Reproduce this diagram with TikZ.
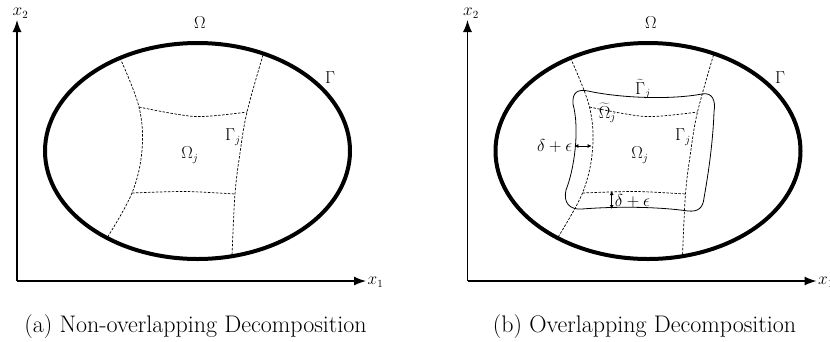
\documentclass[tikz,border=0pt]{standalone}
\usetikzlibrary{arrows.meta}
\begin{document}
\begin{tikzpicture}[x=1pt,y=-1pt,
  bnd/.style={line width=4pt},
  cutline/.style={line width=0.7pt,dash pattern=on 2.5pt off 1.5pt},
  axisline/.style={line width=1.3pt,-{Latex[length=12pt,width=9pt]}},
  lab/.style={inner sep=0pt,font=\fontsize{16}{19}\selectfont},
  captext/.style={inner sep=0pt,anchor=base,font=\fontsize{24}{28}\selectfont},
  dimline/.style={line width=0.9pt,{Latex[length=4pt,width=4pt]}-{Latex[length=4pt,width=4pt]}},
  ovl/.style={line width=0.8pt}]
\useasboundingbox (0,0) rectangle (830,341);
% ---------- panel (a) ----------
\coordinate (oA) at (17,281);
\coordinate (yA) at (17,20);
\coordinate (xA) at (366,281);
\draw[axisline] (oA) -- (yA);
\draw[axisline] (oA) -- (xA);
\node[lab] (x2A) at (20.5,13) {$x_2$};
\node[lab] (x1A) at (375.5,282) {$x_1$};
\draw[bnd] (197.5,151) ellipse [x radius=152.5pt, y radius=108pt];
\draw[cutline] plot[smooth,tension=0.6] coordinates {(120,58) (139,107) (142,150) (132,193) (107,238)};
\draw[cutline] plot[smooth,tension=0.6] coordinates {(263,55) (247,112) (240,153) (235,194) (232,256)};
\draw[cutline] plot[smooth] coordinates {(139,107) (195,116.5) (247,112)};
\draw[cutline] plot[smooth] coordinates {(132,193) (185,191.5) (235,194)};
\node[lab] (OmA) at (200,23) {$\Omega$};
\node[lab] (GaA) at (330,78) {$\Gamma$};
\node[lab] (GjA) at (233,137) {$\Gamma_j$};
\node[lab] (OjA) at (190,155) {$\Omega_j$};
\node[captext] (capA) at (195.5,332) {(a) Non-overlapping Decomposition};
% ---------- panel (b) ----------
\coordinate (oB) at (467.5,281);
\coordinate (yB) at (467.5,20);
\coordinate (xB) at (816.5,281);
\draw[axisline] (oB) -- (yB);
\draw[axisline] (oB) -- (xB);
\node[lab] (x2B) at (471,13) {$x_2$};
\node[lab] (x1B) at (826,282) {$x_1$};
\draw[bnd] (648,151) ellipse [x radius=152.5pt, y radius=108pt];
\begin{scope}[shift={(450.5,0)}]
\draw[cutline] plot[smooth,tension=0.6] coordinates {(120,58) (139,107) (142,150) (132,193) (107,238)};
\draw[cutline] plot[smooth,tension=0.6] coordinates {(263,55) (247,112) (240,153) (235,194) (232,256)};
\draw[cutline] plot[smooth] coordinates {(139,107) (195,116.5) (247,112)};
\draw[cutline] plot[smooth] coordinates {(132,193) (185,191.5) (235,194)};
\end{scope}
\draw[ovl] (573,104) .. controls (572,92) and (578,89) .. (588,91)
  .. controls (620,98) and (670,100) .. (702,94)
  .. controls (712,92) and (716,100) .. (714,112)
  .. controls (713,140) and (709,170) .. (704,198)
  .. controls (703,208) and (698,212) .. (688,211)
  .. controls (660,207) and (620,206) .. (582,209)
  .. controls (570,210) and (563,203) .. (566,190)
  .. controls (574,170) and (580,130) .. (573,104) -- cycle;
\node[lab] (OmB) at (651,23) {$\Omega$};
\node[lab] (GaB) at (780,78) {$\Gamma$};
\node[lab] (GtB) at (643,89) {$\widetilde{\Gamma}_j$};
\node[lab] (OtB) at (607.5,113) {$\widetilde{\Omega}_j$};
\node[lab] (GjB) at (683,137) {$\Gamma_j$};
\node[lab] (OjB) at (640,155) {$\Omega_j$};
\coordinate (hL) at (574.3,146);
\coordinate (hR) at (591.7,146);
\draw[dimline] (hL) -- (hR);
\node[lab] (deH) at (554.7,146) {$\delta+\epsilon$};
\coordinate (vT) at (611.7,191);
\coordinate (vB) at (611.7,209);
\draw[dimline] (vT) -- (vB);
\node[lab] (deV) at (632.5,201.5) {$\delta+\epsilon$};
\node[captext] (capB) at (644.5,332) {(b) Overlapping Decomposition};
\end{tikzpicture}
\end{document}
